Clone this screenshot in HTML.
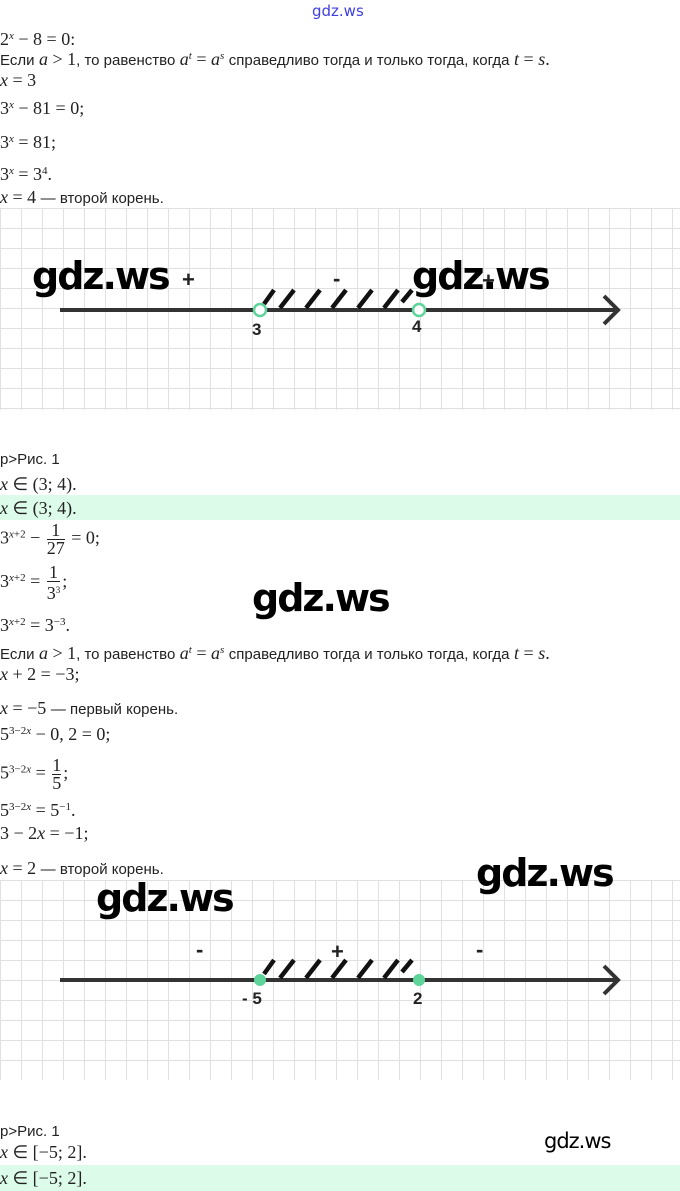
<!DOCTYPE html>
<html><head><meta charset="utf-8"><style>
body{margin:0;width:680px;height:1191px;position:relative;background:#fff;overflow:hidden;font-family:"Liberation Serif",serif;color:#222}
.t{position:absolute;left:0;white-space:nowrap;font-size:18px;line-height:20px}
.s{font-family:"Liberation Sans",sans-serif;font-size:15px}
.i{font-style:italic}
sup{font-size:11px;vertical-align:6px}
.fr{display:inline-block;vertical-align:middle;text-align:center;line-height:17px;margin:0 2px}
.fr span{display:block}
.fr .n{border-bottom:1px solid #222}
.wm{position:absolute;font-family:"DejaVu Sans","Liberation Sans",sans-serif;color:#000;font-weight:bold;letter-spacing:-2px}
.grid{position:absolute;left:0;width:680px;background-image:linear-gradient(#e0e0e0 1px,transparent 1px),linear-gradient(90deg,#e0e0e0 1px,transparent 1px);background-size:21px 20px}
.hl{position:absolute;left:0;width:680px;background:#dcfbe9}
</style></head><body>
<div class="wm" style="left:312px;top:2px;font-size:15px;color:#4040e0;font-weight:normal;letter-spacing:0">gdz.ws</div>
<div class="t" style="top:26px">2<sup class="i">x</sup> − 8 = 0:</div>
<div class="t" style="top:46px"><span class="s">Если</span> <span class="i">a</span> &gt; 1<span class="s">, то равенство</span> <span class="i">a<sup>t</sup></span> = <span class="i">a<sup>s</sup></span> <span class="s">справедливо тогда и только тогда, когда</span> <span class="i">t</span> = <span class="i">s</span>.</div>
<div class="t" style="top:70px"><span class="i">x</span> = 3</div>
<div class="t" style="top:95px">3<sup class="i">x</sup> − 81 = 0;</div>
<div class="t" style="top:129px">3<sup class="i">x</sup> = 81;</div>
<div class="t" style="top:161px">3<sup class="i">x</sup> = 3<sup>4</sup>.</div>
<div class="t" style="top:187px"><span class="i">x</span> = 4 <span class="s">— второй корень.</span></div>

<div class="grid" style="top:208px;height:202px"></div>
<svg style="position:absolute;left:0;top:208px" width="680" height="202">
<line x1="60" y1="102" x2="618" y2="102" stroke="#333" stroke-width="4"/>
<polyline points="604,88 618,102 604,116" fill="none" stroke="#333" stroke-width="4"/>
<g stroke="#111" stroke-width="4.5"><line x1="264" y1="96" x2="274" y2="82"/><line x1="280" y1="100" x2="294" y2="82"/><line x1="306" y1="100" x2="320" y2="82"/><line x1="332" y1="100" x2="346" y2="82"/><line x1="358" y1="100" x2="372" y2="82"/><line x1="384" y1="100" x2="398" y2="82"/><line x1="402" y1="94" x2="412" y2="82"/></g>
<circle cx="260" cy="102" r="6" fill="#fff" stroke="#5ed49a" stroke-width="2.5"/>
<circle cx="419" cy="102" r="6" fill="#fff" stroke="#5ed49a" stroke-width="2.5"/>
<text x="252" y="127" font-family="Liberation Sans" font-size="17" font-weight="bold" fill="#222">3</text>
<text x="412" y="124" font-family="Liberation Sans" font-size="17" font-weight="bold" fill="#222">4</text>
<text x="182" y="79" font-family="Liberation Sans" font-size="22" font-weight="bold" fill="#222">+</text>
<text x="333" y="78" font-family="Liberation Sans" font-size="22" font-weight="bold" fill="#222">-</text>
<text x="482" y="80" font-family="Liberation Sans" font-size="22" font-weight="bold" fill="#222">+</text>
</svg>
<div class="wm" style="left:32px;top:254px;font-size:38px">gdz.ws</div>
<div class="wm" style="left:412px;top:254px;font-size:38px">gdz.ws</div>

<div class="t s" style="top:450px;font-size:15px">р&gt;Рис. 1</div>
<div class="t" style="top:474px"><span class="i">x</span> ∈ (3; 4).</div>
<div class="hl" style="top:495px;height:25px"></div>
<div class="t" style="top:498px"><span class="i">x</span> ∈ (3; 4).</div>
<div class="t" style="top:522px">3<sup><span class="i">x</span>+2</sup> − <span class="fr"><span class="n">1</span><span>27</span></span> = 0;</div>
<div class="t" style="top:564px">3<sup><span class="i">x</span>+2</sup> = <span class="fr"><span class="n">1</span><span>3<sup style="font-size:9px">3</sup></span></span>;</div>
<div class="t" style="top:612px">3<sup><span class="i">x</span>+2</sup> = 3<sup>−3</sup>.</div>
<div class="wm" style="left:252px;top:576px;font-size:38px">gdz.ws</div>
<div class="t" style="top:640px"><span class="s">Если</span> <span class="i">a</span> &gt; 1<span class="s">, то равенство</span> <span class="i">a<sup>t</sup></span> = <span class="i">a<sup>s</sup></span> <span class="s">справедливо тогда и только тогда, когда</span> <span class="i">t</span> = <span class="i">s</span>.</div>
<div class="t" style="top:664px"><span class="i">x</span> + 2 = −3;</div>
<div class="t" style="top:698px"><span class="i">x</span> = −5 <span class="s">— первый корень.</span></div>
<div class="t" style="top:721px">5<sup>3−2<span class="i">x</span></sup> − 0, 2 = 0;</div>
<div class="t" style="top:757px">5<sup>3−2<span class="i">x</span></sup> = <span class="fr"><span class="n">1</span><span>5</span></span>;</div>
<div class="t" style="top:797px">5<sup>3−2<span class="i">x</span></sup> = 5<sup>−1</sup>.</div>
<div class="t" style="top:823px">3 − 2<span class="i">x</span> = −1;</div>
<div class="t" style="top:858px"><span class="i">x</span> = 2 <span class="s">— второй корень.</span></div>

<div class="grid" style="top:880px;height:200px"></div>
<svg style="position:absolute;left:0;top:880px" width="680" height="200">
<line x1="60" y1="100" x2="618" y2="100" stroke="#333" stroke-width="4"/>
<polyline points="604,86 618,100 604,114" fill="none" stroke="#333" stroke-width="4"/>
<g stroke="#111" stroke-width="4.5"><line x1="264" y1="94" x2="274" y2="80"/><line x1="280" y1="98" x2="294" y2="80"/><line x1="306" y1="98" x2="320" y2="80"/><line x1="332" y1="98" x2="346" y2="80"/><line x1="358" y1="98" x2="372" y2="80"/><line x1="384" y1="98" x2="398" y2="80"/><line x1="402" y1="92" x2="412" y2="80"/></g>
<circle cx="260" cy="100" r="6" fill="#5ed49a"/>
<circle cx="419" cy="100" r="6" fill="#5ed49a"/>
<text x="242" y="124" font-family="Liberation Sans" font-size="17" font-weight="bold" fill="#222">- 5</text>
<text x="413" y="124" font-family="Liberation Sans" font-size="17" font-weight="bold" fill="#222">2</text>
<text x="196" y="77" font-family="Liberation Sans" font-size="22" font-weight="bold" fill="#222">-</text>
<text x="331" y="79" font-family="Liberation Sans" font-size="22" font-weight="bold" fill="#222">+</text>
<text x="476" y="77" font-family="Liberation Sans" font-size="22" font-weight="bold" fill="#222">-</text>
</svg>
<div class="wm" style="left:96px;top:876px;font-size:38px">gdz.ws</div>
<div class="wm" style="left:476px;top:851px;font-size:38px">gdz.ws</div>

<div class="t s" style="top:1122px;font-size:15px">р&gt;Рис. 1</div>
<div class="wm" style="left:544px;top:1129px;font-size:21px;font-weight:normal;letter-spacing:-1px">gdz.ws</div>
<div class="t" style="top:1142px"><span class="i">x</span> ∈ [−5; 2].</div>
<div class="hl" style="top:1165px;height:26px"></div>
<div class="t" style="top:1168px"><span class="i">x</span> ∈ [−5; 2].</div>
</body></html>
